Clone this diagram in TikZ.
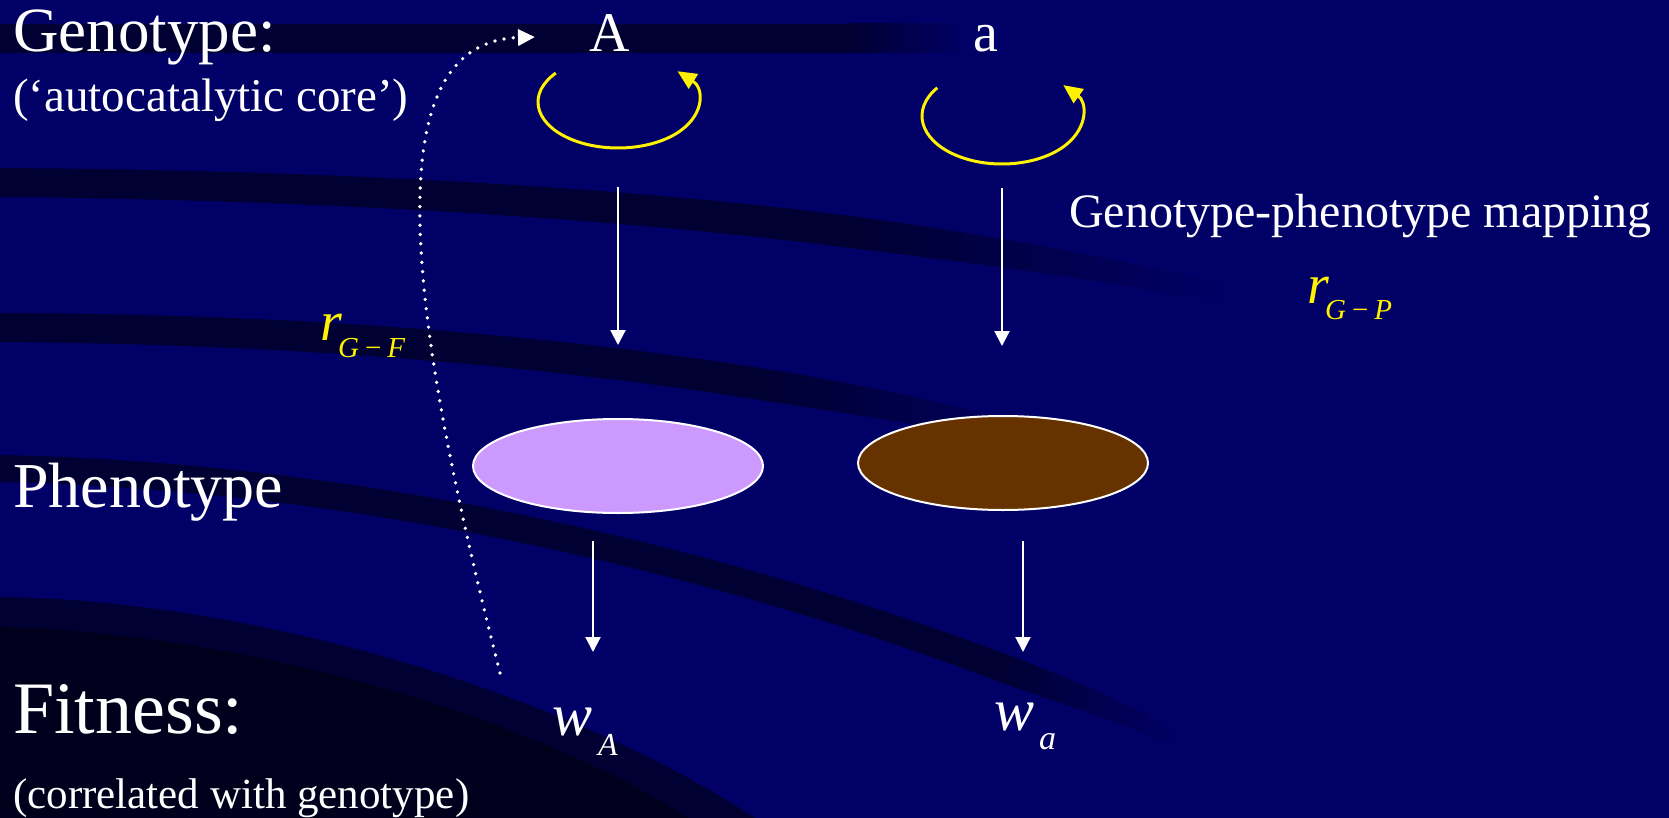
\documentclass[tikz,border=0pt]{standalone}
\usepackage{fontspec}
\setmainfont{Liberation Serif}
\usetikzlibrary{arrows.meta,shapes.geometric}

\definecolor{slidebg}{RGB}{0,0,102}
\definecolor{bandcol}{RGB}{0,0,50}
\definecolor{deepcol}{RGB}{0,0,28}
\definecolor{lilac}{RGB}{204,153,255}
\definecolor{brownish}{RGB}{102,51,0}

\begin{document}
\begin{tikzpicture}[x=1pt, y=-1pt,
    band/.style={fill=bandcol, draw=none},
    bandtail/.style={left color=bandcol, right color=slidebg, draw=none},
    lbl/.style={text=white, anchor=base west, inner sep=0pt},
    gene/.style={text=white, anchor=base, inner sep=0pt, font=\fontsize{56}{60}\selectfont},
    cyc/.style={draw=yellow, line width=3pt, -{Triangle[length=19pt,width=17pt]}},
    arr/.style={draw=white, line width=2.2pt, -{Triangle[length=15pt,width=15pt]}},
    pheno/.style={ellipse, draw=white, line width=2pt, minimum width=290pt, minimum height=94pt, inner sep=0pt},
    corr/.style={text=yellow, anchor=base west, inner sep=0pt, font=\fontsize{56}{60}\selectfont},
    wlbl/.style={text=white, anchor=base west, inner sep=0pt, font=\fontsize{60}{64}\selectfont},
    dotarr/.style={draw=white, line width=3.7pt, dash pattern=on 0pt off 9.3pt, line cap=round, -{Triangle[length=17pt,width=16pt]}}
]
\useasboundingbox (0,0) rectangle (1669,818);
\fill[slidebg] (0,0) rectangle (1669,818);
\fill[band] (0,24) rectangle (850,53);
\shade[bandtail] (850,24) rectangle (965,53);
\fill[band] (0,168) .. controls (350,170) and (650,190) .. (850,216) -- (850,248) .. controls (650,222) and (350,200) .. (0,197) -- cycle;
\shade[bandtail] (850,216) .. controls (980,233) and (1100,255) .. (1230,285) -- (1230,305) .. controls (1100,279) and (980,264) .. (850,248) -- cycle;
\fill[band] (0,313) .. controls (300,314) and (550,335) .. (760,368) -- (760,400) .. controls (550,367) and (300,344) .. (0,342) -- cycle;
\shade[bandtail] (760,368) .. controls (880,387) and (980,410) .. (1080,440) -- (1080,462) .. controls (980,432) and (880,419) .. (760,400) -- cycle;
\fill[band] (0,455) .. controls (350,462) and (700,540) .. (1000,652) -- (1000,682) .. controls (700,568) and (350,490) .. (0,482) -- cycle;
\shade[bandtail] (1000,652) .. controls (1060,674) and (1120,700) .. (1180,730) -- (1180,750) .. controls (1120,720) and (1060,704) .. (1000,682) -- cycle;
\fill[band] (0,597) .. controls (250,600) and (560,690) .. (755,818) -- (0,818) -- cycle;
\fill[deepcol] (0,627) .. controls (230,632) and (520,710) .. (688,818) -- (0,818) -- cycle;

\node[lbl, font=\fontsize{63}{70}\selectfont] (geno) at (13,52) {Genotype:};
\node[lbl, font=\fontsize{47}{50}\selectfont] (core) at (13,112) {(‘autocatalytic core’)};
\node[lbl, font=\fontsize{64}{70}\selectfont] (phen) at (13,507) {Phenotype};
\node[lbl, font=\fontsize{74}{80}\selectfont] (fit) at (13,733) {Fitness:};
\node[lbl, font=\fontsize{43}{48}\selectfont] (corrgeno) at (13,808) {(correlated with genotype)};
\node[lbl, font=\fontsize{48}{52}\selectfont] (gpmap) at (1069,228) {Genotype-phenotype mapping};

\node[gene] (gA) at (610,52) {A};
\node[gene] (gB) at (986,52) {a};
\coordinate (loopA) at (618,102);
\coordinate (loopB) at (1002,116);
\draw[cyc] (loopA) ++(219:80 and 46) arc[start angle=219, end angle=-42, x radius=80, y radius=46];
\draw[cyc] (loopB) ++(216:80 and 48) arc[start angle=216, end angle=-40, x radius=80, y radius=48];

\node[pheno, fill=lilac] (pA) at (618,466) {};
\node[pheno, fill=brownish] (pB) at (1003,463) {};

\node[wlbl] (fA) at (552,735) {\textit{w}\hspace{6pt}\raisebox{-20pt}{\fontsize{32}{32}\selectfont\textit{A}}};
\node[wlbl] (fB) at (994,730) {\textit{w}\hspace{5pt}\raisebox{-19pt}{\fontsize{34}{34}\selectfont\textit{a}}};

\node[corr] (rGF) at (320,340) {\textit{r}\hspace{-4pt}\raisebox{-17pt}{\fontsize{29}{30}\selectfont\textit{G}\hspace{6pt}−\hspace{6pt}\textit{F}}};
\node[corr] (rGP) at (1307,303) {\textit{r}\hspace{-4pt}\raisebox{-16pt}{\fontsize{29}{30}\selectfont\textit{G}\hspace{6pt}−\hspace{6pt}\textit{P}}};

\draw[arr] ([yshift=-85pt]loopA) -- ([yshift=73pt]pA.north);
\draw[arr] ([yshift=-72pt]loopB) -- ([yshift=69pt]loopB |- pB.north);
\draw[arr] ([xshift=-25pt,yshift=-27pt]pA.south) -- ([xshift=-25pt,yshift=-138pt]pA.south);
\draw[arr] ([xshift=20pt,yshift=-30pt]pB.south) -- ([xshift=20pt,yshift=-141pt]pB.south);

\coordinate (gfS) at (500,673);
\coordinate (gfE) at (535,37);
\draw[dotarr] (gfS) .. controls (405,300) and (375,42) .. (gfE);
\end{tikzpicture}
\end{document}
